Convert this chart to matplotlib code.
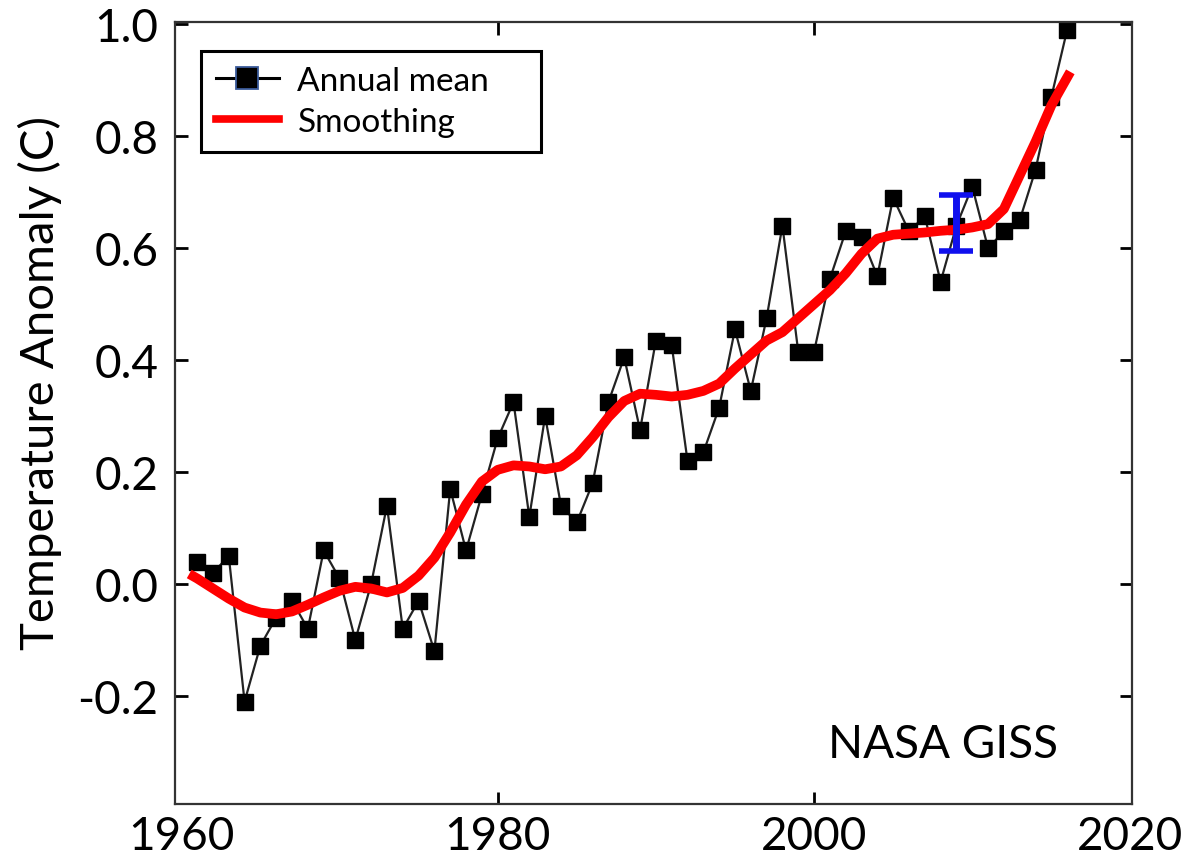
import matplotlib.pyplot as plt
from matplotlib.lines import Line2D

plt.rcParams['font.family'] = ['Lato', 'DejaVu Sans']

# annual mean anomaly (C)
years = list(range(1961, 2017))
annual = [0.04, 0.02, 0.05, -0.21, -0.11, -0.06, -0.03, -0.08, 0.06, 0.01,
          -0.10, 0.00, 0.14, -0.08, -0.03, -0.12, 0.17, 0.06, 0.16, 0.26,
          0.325, 0.12, 0.30, 0.14, 0.11, 0.18, 0.325, 0.405, 0.275, 0.435,
          0.427, 0.22, 0.235, 0.315, 0.455, 0.345, 0.475, 0.64, 0.415, 0.415,
          0.545, 0.63, 0.62, 0.55, 0.69, 0.63, 0.657, 0.54, 0.64, 0.71,
          0.60, 0.63, 0.65, 0.74, 0.87, 0.99]

# smoothed curve
smooth_years = [1960.5] + list(range(1961, 2017)) + [2016.2]
smooth = [0.018, 0.01, -0.008, -0.026, -0.042, -0.051, -0.054, -0.049, -0.037, -0.024,
          -0.012, -0.005, -0.008, -0.015, -0.007, 0.015, 0.047, 0.092, 0.142, 0.183,
          0.204, 0.212, 0.21, 0.205, 0.21, 0.23, 0.262, 0.298, 0.327, 0.34,
          0.338, 0.335, 0.338, 0.345, 0.358, 0.385, 0.41, 0.435, 0.45, 0.475,
          0.50, 0.525, 0.555, 0.59, 0.617, 0.624, 0.626, 0.628, 0.631, 0.633,
          0.637, 0.643, 0.67, 0.73, 0.79, 0.855, 0.905, 0.915]

# uncertainty bar
err_year = [2009]
err_center = [0.645]
err_half = [0.05]

x_ticks = [1960, 1980, 2000, 2020]
y_ticks = [-0.2, 0.0, 0.2, 0.4, 0.6, 0.8, 1.0]
y_labels = ['-0.2', '0.0', '0.2', '0.4', '0.6', '0.8', '1.0']

fig = plt.figure(figsize=(11.96, 8.62), dpi=100)
ax = fig.add_axes([0.1463, 0.0661, 0.8002, 0.9072])

ax.plot(years, annual, color='#222222', linewidth=1.6, marker='s',
        markersize=12, markerfacecolor='black', markeredgecolor='black', zorder=2)
ax.plot(smooth_years, smooth, color='#ff0000', linewidth=7,
        solid_capstyle='butt', solid_joinstyle='round', zorder=3)
ax.errorbar(err_year, err_center, yerr=err_half, fmt='none', ecolor='#1010ee',
            elinewidth=5, capsize=12, capthick=4, zorder=4)

ax.set_xlim(1959.6, 2020.1)
ax.set_ylim(-0.393, 1.004)
ax.set_xticks(x_ticks)
ax.set_xticklabels([str(v) for v in x_ticks])
ax.set_yticks(y_ticks)
ax.set_yticklabels(y_labels)

ax.tick_params(direction='in', length=9, width=2, top=True, right=True,
               labelsize=33, color='black')
ax.tick_params(axis='x', pad=8)
ax.tick_params(axis='y', pad=12)
for t in [ax.xaxis.get_major_ticks()[0], ax.xaxis.get_major_ticks()[-1]]:
    t.tick1line.set_visible(False)
    t.tick2line.set_visible(False)

for s in ax.spines.values():
    s.set_linewidth(1.6)
    s.set_color('#333333')

ax.set_ylabel('Temperature Anomaly (C)', fontsize=34)
ax.yaxis.set_label_coords(-0.118, 0.54)

ax.text(2015.4, -0.286, 'NASA GISS', fontsize=33, ha='right', va='center')

# legend
handles = [
    Line2D([], [], color='black', linewidth=2.2, marker='s', markersize=16,
           markerfacecolor='black', markeredgecolor='#3a5a9a', markeredgewidth=1.3),
    Line2D([], [], color='#ff0000', linewidth=5.5),
]
leg = ax.legend(handles, ['Annual mean', 'Smoothing'], loc='upper left',
                bbox_to_anchor=(0.027, 0.5, 0.355, 0.463), mode='expand',
                fontsize=24, frameon=True, fancybox=False, edgecolor='black',
                handlelength=1.9, handletextpad=0.55, borderpad=0.45,
                labelspacing=0.32, borderaxespad=0)
leg.get_frame().set_linewidth(2.2)
leg.get_frame().set_alpha(1)

fig.savefig('out.png', dpi=100, facecolor='white')
plt.close()
